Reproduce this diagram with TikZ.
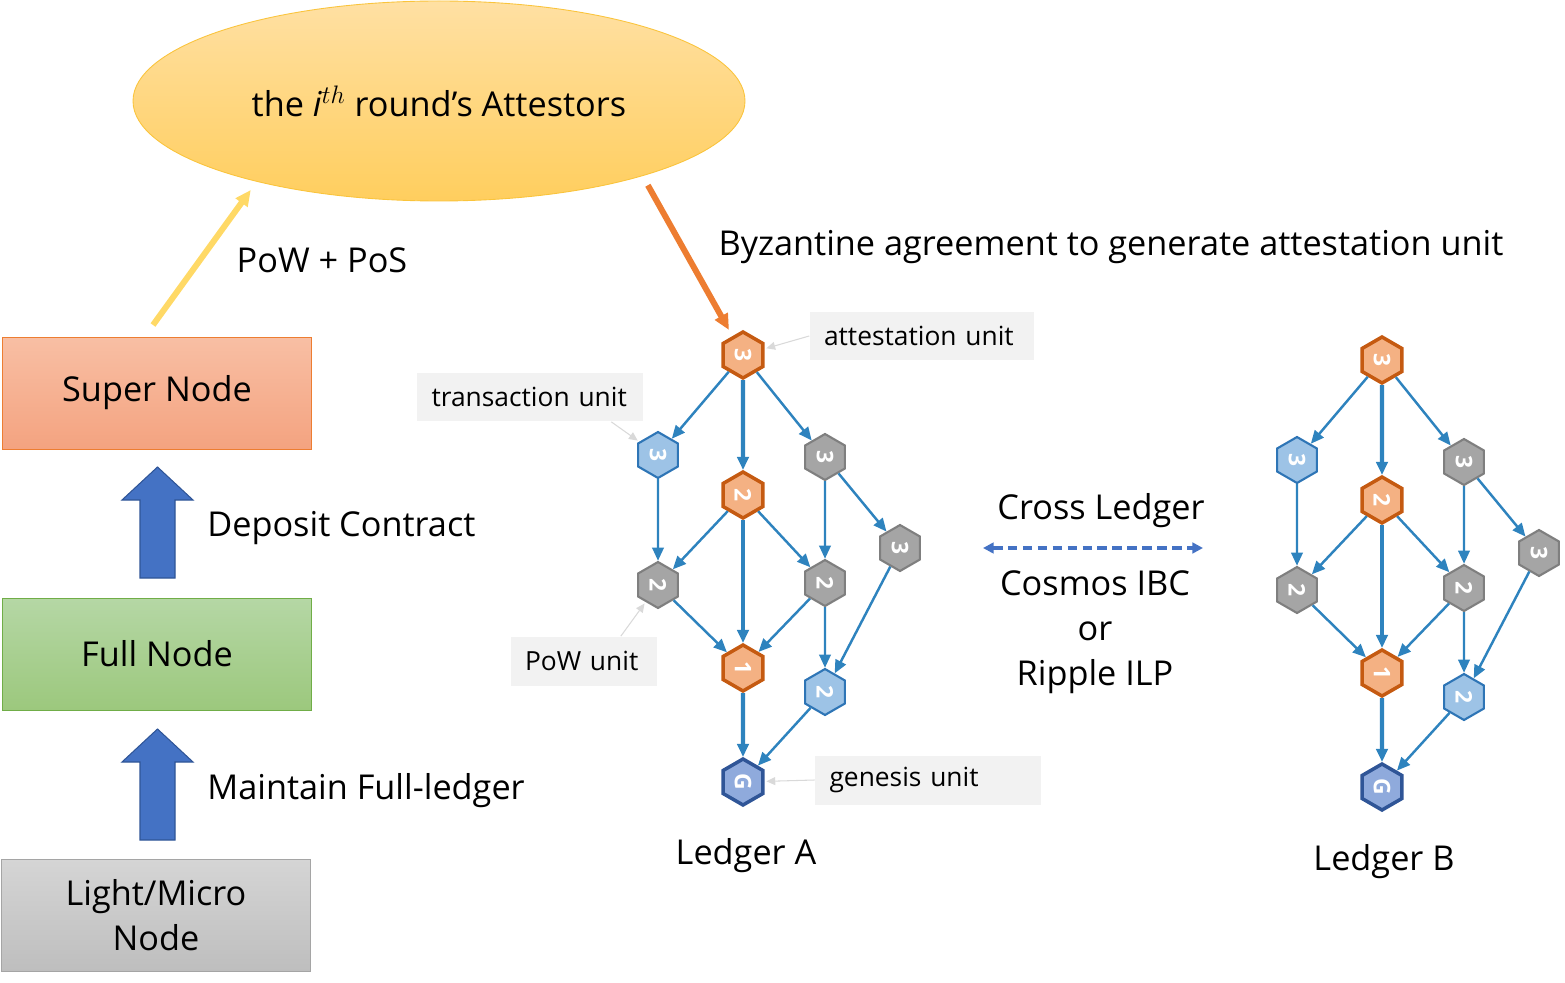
\documentclass[tikz,border=0pt]{standalone}
\usepackage{fontspec}
\setmainfont{Open Sans}
\usetikzlibrary{shapes.geometric,arrows.meta}

\definecolor{edgeBlue}{HTML}{2E83BE}
\definecolor{attFill}{HTML}{F4B183}
\definecolor{attLine}{HTML}{C55A11}
\definecolor{txFill}{HTML}{9DC3E6}
\definecolor{txLine}{HTML}{2E75B6}
\definecolor{powFill}{HTML}{A5A5A5}
\definecolor{powLine}{HTML}{7F7F7F}
\definecolor{genFill}{HTML}{8FAADC}
\definecolor{genLine}{HTML}{2F5597}
\definecolor{tagGray}{HTML}{F2F2F2}
\definecolor{callGray}{HTML}{D9D9D9}
\definecolor{blockBlue}{HTML}{4472C4}
\definecolor{ellTop}{HTML}{FFE0A3}
\definecolor{ellBot}{HTML}{FFCE5E}
\definecolor{ellLine}{HTML}{FAC43C}
\definecolor{supTop}{HTML}{F8BFA4}
\definecolor{supBot}{HTML}{F4A380}
\definecolor{supLine}{HTML}{ED7D31}
\definecolor{fullTop}{HTML}{B5D7A5}
\definecolor{fullBot}{HTML}{9CC87D}
\definecolor{fullLine}{HTML}{70AD47}
\definecolor{lightTop}{HTML}{D5D5D5}
\definecolor{lightBot}{HTML}{BEBEBE}
\definecolor{lightLine}{HTML}{A5A5A5}
\definecolor{posYellow}{HTML}{FFD966}
\definecolor{byzOrange}{HTML}{ED7D31}

\tikzstyle{level}=[draw,shape=rectangle,minimum width=6.18cm,minimum height=2.24cm,align=center,font=\fontsize{19.5}{25.6}\selectfont]
\tikzstyle{unit}=[regular polygon,regular polygon sides=6,rotate=-90,minimum size=0.92cm,inner sep=0pt,text=white,font=\bfseries\fontsize{13}{13}\selectfont]
\tikzstyle{att}=[unit,fill=attFill,draw=attLine,line width=2pt]
\tikzstyle{tx}=[unit,fill=txFill,draw=txLine,line width=1.2pt]
\tikzstyle{pow}=[unit,fill=powFill,draw=powLine,line width=1.2pt]
\tikzstyle{gen}=[unit,fill=genFill,draw=genLine,line width=2pt]
\tikzstyle{edge}=[edgeBlue,line width=1.4pt,-{Triangle[length=7.5pt,width=6.5pt]}]
\tikzstyle{main}=[edge,line width=2.4pt]
\tikzstyle{tag}=[fill=tagGray,minimum height=0.98cm,inner xsep=0.29cm,align=left,font=\fontsize{15}{17}\selectfont]
\tikzstyle{callout}=[callGray,line width=0.6pt,-{Triangle[length=5pt,width=4.5pt]},shorten >=1pt]
\tikzstyle{label}=[font=\fontsize{19.5}{25.6}\selectfont,align=center]
\tikzstyle{bigarrow}=[line width=3.4pt,-{Triangle[length=9pt,width=8pt]}]
\tikzstyle{block}=[fill=blockBlue,draw=genLine,line width=0.6pt]

\begin{document}
\begin{tikzpicture}[x=0.02cm,y=-0.02cm]
\useasboundingbox (0,0) rectangle (1565,983);

% attestors and node levels
\shade[top color=ellTop,bottom color=ellBot,draw=ellLine,line width=0.5pt] (439,101) ellipse [x radius=306,y radius=100];
\node[label] at (439,101) (attestors) {the $\mathit{i}^{th}$ round's Attestors};
\coordinate (ell-l) at (258,180);
\coordinate (ell-r) at (641,173);

\node[level,top color=supTop,bottom color=supBot,draw=supLine] at (157,393) (super) {Super Node};
\node[level,top color=fullTop,bottom color=fullBot,draw=fullLine] at (157,654) (full) {Full Node};
\node[level,top color=lightTop,bottom color=lightBot,draw=lightLine] at (156,915) (light) {Light/Micro\\Node};

\draw[block] (140,578) -- (140,500) -- (122,500) -- (157.5,467) -- (193,500) -- (175,500) -- (175,578) -- cycle;
\draw[block] (140,840) -- (140,762) -- (122,762) -- (157.5,729) -- (193,762) -- (175,762) -- (175,840) -- cycle;
\node[label,anchor=west,inner xsep=0pt] at (207,528) (deposit) {Deposit Contract};
\node[label,anchor=west,inner xsep=0pt] at (207,791) (maintain) {Maintain Full-ledger};

\coordinate (pos-s) at (153,325);
\draw[bigarrow,posYellow,shorten >=7pt] (pos-s) -- (ell-l);
\node[label] at (322,260) (powpos) {PoW + PoS};
\node[label] at (1111,247) (byz) {Byzantine agreement to generate attestation unit};

% Ledger A
\node[att] at (743,355) (A-att3) {3};
\node[tx]  at (658,455) (A-tx3)  {3};
\node[pow] at (825,457) (A-pow3) {3};
\node[att] at (743,495) (A-att2) {2};
\node[pow] at (900,548) (A-pow3b) {3};
\node[pow] at (658,585) (A-pow2l) {2};
\node[pow] at (825,583) (A-pow2r) {2};
\node[att] at (743,668) (A-att1) {1};
\node[tx]  at (825,692) (A-tx2)  {2};
\node[gen] at (743,782) (A-gen)  {G};
\draw[edge] (A-att3) -- (A-tx3);
\draw[main] (A-att3) -- (A-att2);
\draw[edge] (A-att3) -- (A-pow3);
\draw[edge] (A-tx3) -- (A-pow2l);
\draw[edge] (A-att2) -- (A-pow2l);
\draw[main] (A-att2) -- (A-att1);
\draw[edge] (A-att2) -- (A-pow2r);
\draw[edge] (A-pow3) -- (A-pow2r);
\draw[edge] (A-pow3) -- (A-pow3b);
\draw[edge] (A-pow2l) -- (A-att1);
\draw[edge] (A-pow2r) -- (A-att1);
\draw[edge] (A-pow2r) -- (A-tx2);
\draw[edge] (A-pow3b) -- (A-tx2);
\draw[main] (A-att1) -- (A-gen);
\draw[edge] (A-tx2) -- (A-gen);
\node[label] at (746,856) (ledgerA) {Ledger A};

\draw[bigarrow,byzOrange,shorten <=8pt,shorten >=4pt] (ell-r) -- (A-att3);

% unit kinds
\node[tag,text width=3.92cm] at (922,336) (tag-att) {attestation unit};
\node[tag,text width=3.94cm] at (530,397) (tag-tx) {transaction unit};
\node[tag,text width=2.36cm] at (584,661) (tag-pow) {PoW unit};
\node[tag,text width=3.94cm] at (928,780) (tag-gen) {genesis unit};
\draw[callout] (tag-att.west) -- (A-att3);
\draw[callout] (tag-tx.343) -- (A-tx3);
\draw[callout] (tag-pow.34) -- (A-pow2l);
\draw[callout] (tag-gen.west) -- (A-gen);

% cross ledger
\node[label] at (1101,511) (cross) {Cross Ledger};
\coordinate (cl-l) at (983,548);
\coordinate (cl-r) at (1203,548);
\draw[blockBlue,line width=2pt,dash pattern=on 5.5pt off 3pt,{Triangle[length=6pt,width=6pt]}-{Triangle[length=6pt,width=6pt]}] (cl-l) -- (cl-r);
\node[label] at (1095,632) (protocols) {Cosmos IBC\\or\\Ripple ILP};

% Ledger B
\begin{scope}[shift={(639,5)}]
\node[att] at (743,355) (B-att3) {3};
\node[tx]  at (658,455) (B-tx3)  {3};
\node[pow] at (825,457) (B-pow3) {3};
\node[att] at (743,495) (B-att2) {2};
\node[pow] at (900,548) (B-pow3b) {3};
\node[pow] at (658,585) (B-pow2l) {2};
\node[pow] at (825,583) (B-pow2r) {2};
\node[att] at (743,668) (B-att1) {1};
\node[tx]  at (825,692) (B-tx2)  {2};
\node[gen] at (743,782) (B-gen)  {G};
\draw[edge] (B-att3) -- (B-tx3);
\draw[main] (B-att3) -- (B-att2);
\draw[edge] (B-att3) -- (B-pow3);
\draw[edge] (B-tx3) -- (B-pow2l);
\draw[edge] (B-att2) -- (B-pow2l);
\draw[main] (B-att2) -- (B-att1);
\draw[edge] (B-att2) -- (B-pow2r);
\draw[edge] (B-pow3) -- (B-pow2r);
\draw[edge] (B-pow3) -- (B-pow3b);
\draw[edge] (B-pow2l) -- (B-att1);
\draw[edge] (B-pow2r) -- (B-att1);
\draw[edge] (B-pow2r) -- (B-tx2);
\draw[edge] (B-pow3b) -- (B-tx2);
\draw[main] (B-att1) -- (B-gen);
\draw[edge] (B-tx2) -- (B-gen);
\node[label] at (745,857) (ledgerB) {Ledger B};
\end{scope}
\end{tikzpicture}
\end{document}
